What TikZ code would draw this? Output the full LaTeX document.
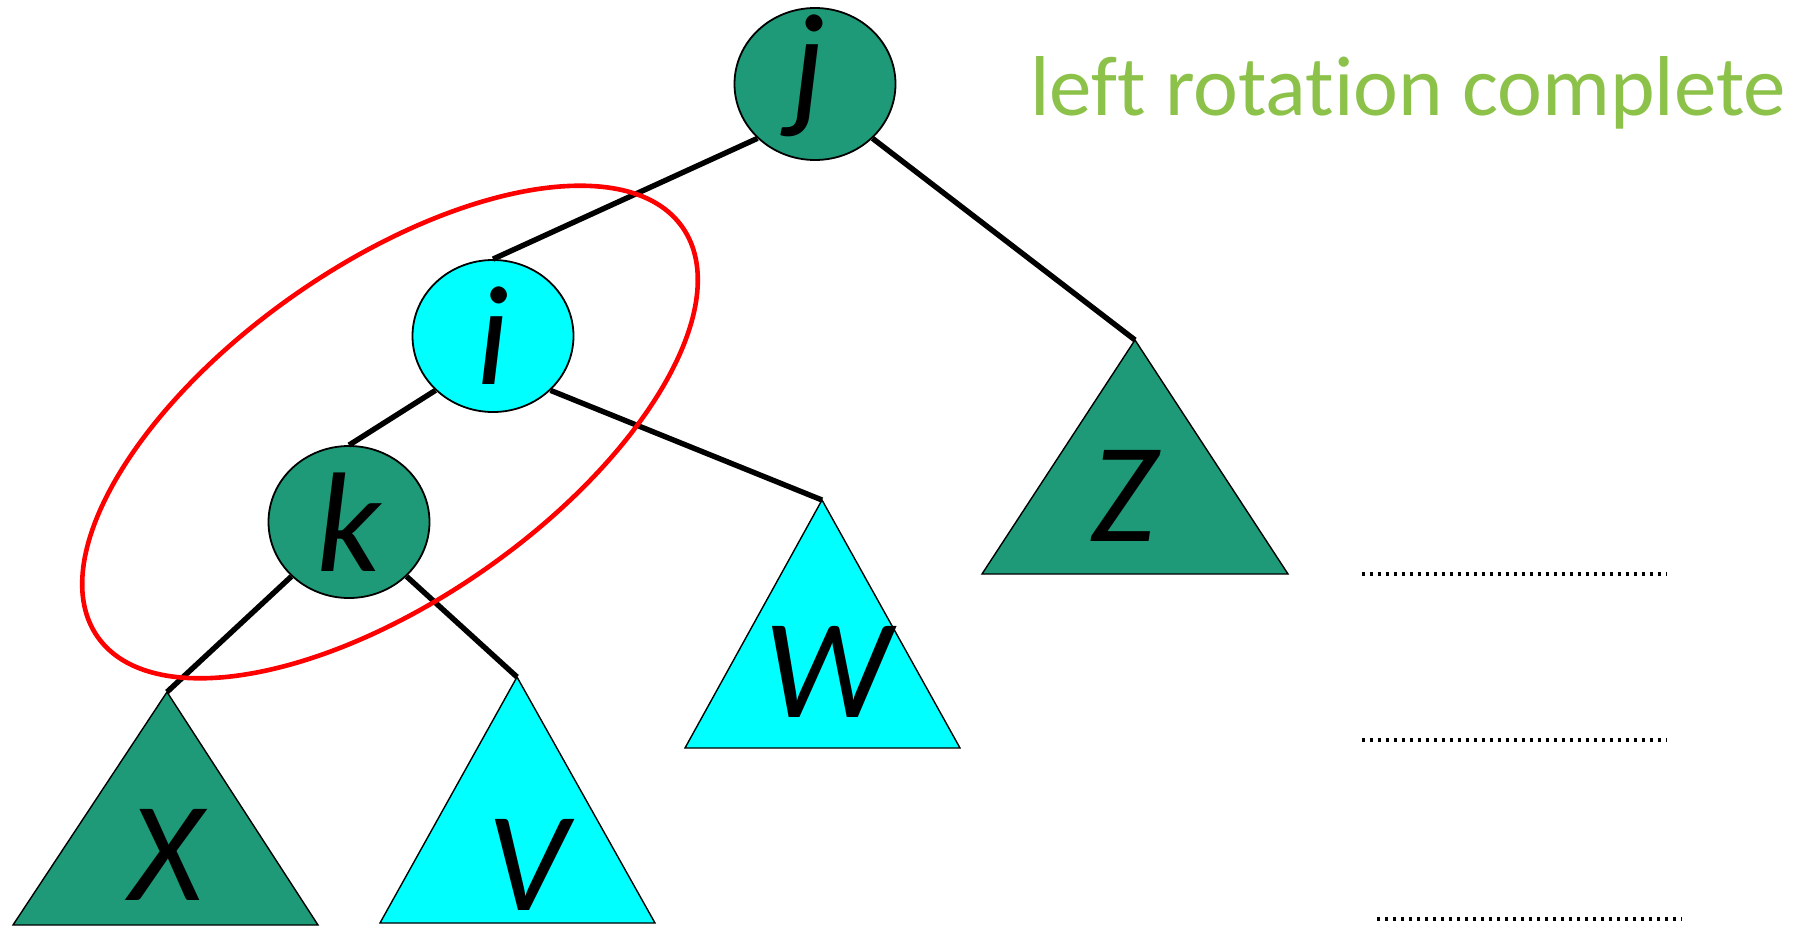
\documentclass[tikz,border=0pt]{standalone}
\usepackage{fontspec}
\setmainfont{Carlito}[Ligatures={NoCommon,NoRare}]
\usetikzlibrary{shapes.geometric}
\definecolor{tealg}{RGB}{30,154,121}
\definecolor{cyanf}{RGB}{0,255,255}
\definecolor{titlegreen}{RGB}{141,194,74}
\tikzset{
  vert/.style={ellipse, draw=black, line width=0.9pt, minimum width=80.5pt, minimum height=76pt, inner sep=0pt},
  lab/.style={inner sep=0pt, font=\fontsize{71}{84}\selectfont\itshape},
  edge/.style={line width=2.7pt, black},
  tri/.style={draw=black, line width=0.7pt},
  dotline/.style={line width=1.6pt, dash pattern=on 1.5pt off 2.5pt}
}
\begin{document}
\begin{tikzpicture}[x=0.5pt,y=-0.5pt]
\useasboundingbox (0,0) rectangle (1805,927);
% apex coordinates of subtrees
\coordinate (Ztop) at (1135,340);
\coordinate (Wtop) at (822,500);
\coordinate (Xtop) at (167,692);
\coordinate (Vtop) at (517,677);
% triangles
\fill[tealg] (Ztop) -- (982,574) -- (1288,574) -- cycle;
\draw[tri] (Ztop) -- (982,574) -- (1288,574) -- cycle;
\fill[cyanf] (Wtop) -- (685,748) -- (960,748) -- cycle;
\draw[tri] (Wtop) -- (685,748) -- (960,748) -- cycle;
\fill[tealg] (Xtop) -- (13,925) -- (318,925) -- cycle;
\draw[tri] (Xtop) -- (13,925) -- (318,925) -- cycle;
\fill[cyanf] (Vtop) -- (380,923) -- (655,923) -- cycle;
\draw[tri] (Vtop) -- (380,923) -- (655,923) -- cycle;
% tree nodes
\node[vert, fill=tealg] (j) at (815,84) {};
\node[vert, fill=cyanf] (i) at (493,336) {};
\node[vert, fill=tealg] (k) at (349,522) {};
% edges
\draw[edge] (j.south west) -- (i.north);
\draw[edge] (j.south east) -- (Ztop);
\draw[edge] (i.south west) -- (k.north);
\draw[edge] (i.south east) -- (Wtop);
\draw[edge] (k.south west) -- (Xtop);
\draw[edge] (k.south east) -- (Vtop);
% labels
\node[lab] (jl) at (808,76) {j};
\node[lab] (il) at (493,336) {i};
\node[lab] (kl) at (349,522) {k};
\node[lab] (Zl) at (1124,496) {Z};
\node[lab] (Wl) at (828,672) {W};
\node[lab] (Xl) at (166,855) {X};
\node[lab] (Vl) at (528,865) {V};
% red ellipse
\coordinate (E) at (390,432);
\draw[red, line width=2.3pt, shift={(E)}, rotate=35] (0,0) ellipse [x radius=178.5pt, y radius=83.5pt];
% title
\node[anchor=base west, inner sep=0pt, text=titlegreen, font=\fontsize{42.5}{50}\selectfont] (title) at (1030,115) {left rotation complete};
% dotted lines
\coordinate (d1a) at (1362,574); \coordinate (d1b) at (1667,574);
\coordinate (d2a) at (1362,740); \coordinate (d2b) at (1667,740);
\coordinate (d3a) at (1377,919); \coordinate (d3b) at (1682,919);
\draw[dotline] (d1a) -- (d1b);
\draw[dotline] (d2a) -- (d2b);
\draw[dotline] (d3a) -- (d3b);
\end{tikzpicture}
\end{document}
